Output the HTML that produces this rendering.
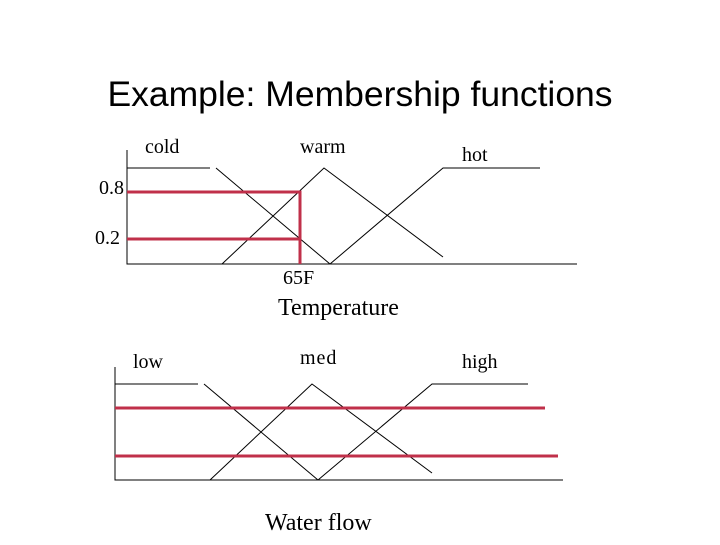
<!DOCTYPE html>
<html><head><style>body{margin:0;background:#fff;width:720px;height:540px;overflow:hidden}</style></head><body>
<svg width="720" height="540" xmlns="http://www.w3.org/2000/svg">
<text x="360" y="106" text-anchor="middle" font-family="Liberation Sans, sans-serif" font-size="35.5">Example: Membership functions</text>
<g font-family="Liberation Serif, serif" font-size="20" fill="#000">
<text x="145" y="153">cold</text>
<text x="300" y="153">warm</text>
<text x="462" y="161">hot</text>
<text x="99" y="194">0.8</text>
<text x="95" y="244">0.2</text>
<text x="283" y="284">65F</text>
<text x="278" y="315" font-size="24">Temperature</text>
<text x="133" y="368">low</text>
<text x="300" y="364" letter-spacing="1">med</text>
<text x="462" y="368">high</text>
<text x="265" y="530" font-size="24">Water flow</text>
</g>
<g stroke="#000" stroke-width="1" fill="none">
<path d="M127 150V264H577"/>
<path d="M127 168H210M216 168L330 264M222 264L324 168L443 257M330 264L443 168H540"/>
<path d="M115 367V480H563"/>
<path d="M115 384H198M204 384L318 480M210 480L312 384L432 473M318 480L432 384H528"/>
</g>
<g stroke="#c0304a" stroke-width="3" fill="none">
<path d="M127 192H300V264M127 239H300"/>
<path d="M115 408H545M115 456H558"/>
</g>
</svg>
</body></html>
